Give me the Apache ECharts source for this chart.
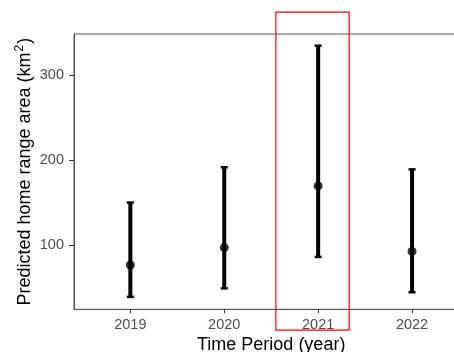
<!DOCTYPE html>
<html><head><meta charset="utf-8">
<script src="https://cdn.jsdelivr.net/npm/echarts@6/dist/echarts.min.js"></script>
<style>html,body{margin:0;padding:0;background:#fff}#c{width:454px;height:352px}</style>
</head><body><div id="c"></div>
<script>
const years = ['2019', '2020', '2021', '2022'];
const estimate = [76.5, 97, 169.5, 92.5];
const lower = [39, 49, 86, 44.5];
const upper = [150, 191.5, 334.5, 189];
const yTicks = [100, 200, 300];
const highlightX = [2.55, 3.33];
const highlightY = [0, 374];

const xs = years.map((_, i) => i + 1);
const chart = echarts.init(document.getElementById('c'));
const font = 'Liberation Sans, Arial, sans-serif';
const axisColor = '#4d4d4d';

chart.setOption({
  animation: false,
  grid: { left: 74, right: -14.4, top: 34, bottom: 42.7, show: true, borderColor: '#555', borderWidth: 1,
          outerBoundsMode: 'none', containLabel: false },
  xAxis: {
    type: 'value', min: 0.4, max: 4.6,
    splitLine: { show: false },
    axisLine: { show: true, onZero: false, lineStyle: { color: '#555', width: 1 } },
    axisTick: { show: true, customValues: xs, length: 4, lineStyle: { color: '#333', width: 1 } },
    axisLabel: { customValues: xs, formatter: v => years[Math.round(v) - 1] || '', color: axisColor, fontSize: 14.5, fontFamily: font, margin: 8 },
    name: 'Time Period (year)', nameLocation: 'middle', nameGap: 27, nameMoveOverlap: false,
    nameTextStyle: { color: '#000', fontSize: 18, fontFamily: font }
  },
  yAxis: {
    type: 'value', min: 24.4, max: 348.2,
    splitLine: { show: false },
    axisLine: { show: true, onZero: false, lineStyle: { color: '#555', width: 1 } },
    axisTick: { show: true, customValues: yTicks, length: 5, lineStyle: { color: '#333', width: 1 } },
    axisLabel: { customValues: yTicks, color: axisColor, fontSize: 14.5, fontFamily: font, margin: 10 },
    name: 'Predicted home range area (km{s|2})', nameLocation: 'middle', nameGap: 38, nameRotate: 90, nameMoveOverlap: false,
    nameTextStyle: { color: '#000', fontSize: 18, fontFamily: font, lineHeight: 22,
      rich: { s: { fontSize: 12, fontFamily: font, color: '#000', verticalAlign: 'top', lineHeight: 22, padding: [0, 1, 0, 1] } } }
  },
  series: [
    {
      type: 'custom',
      data: xs.map((x, i) => [x, lower[i], upper[i]]),
      renderItem: function (params, api) {
        const x = api.value(0);
        const lo = api.coord([x, api.value(1)]);
        const hi = api.coord([x, api.value(2)]);
        const cap = 3.5;
        const st = { stroke: '#000', lineWidth: 4 };
        const cs = { stroke: '#000', lineWidth: 2.5 };
        return { type: 'group', children: [
          { type: 'line', shape: { x1: lo[0], y1: lo[1], x2: hi[0], y2: hi[1] }, style: st },
          { type: 'line', shape: { x1: lo[0] - cap, y1: lo[1], x2: lo[0] + cap, y2: lo[1] }, style: cs },
          { type: 'line', shape: { x1: hi[0] - cap, y1: hi[1], x2: hi[0] + cap, y2: hi[1] }, style: cs }
        ]};
      },
      z: 2
    },
    {
      type: 'scatter',
      data: xs.map((x, i) => [x, estimate[i]]),
      symbol: 'circle', symbolSize: 9,
      itemStyle: { color: '#000' },
      z: 3
    }
  ]
});

const p1 = chart.convertToPixel({ gridIndex: 0 }, [highlightX[0], highlightY[1]]);
const p2 = chart.convertToPixel({ gridIndex: 0 }, [highlightX[1], highlightY[0]]);
chart.setOption({
  graphic: [{
    type: 'rect', z: 10,
    shape: { x: p1[0], y: p1[1], width: p2[0] - p1[0], height: p2[1] - p1[1] },
    style: { fill: 'none', stroke: '#ff0000', lineWidth: 1.2 }
  }]
});
</script>
</body></html>
